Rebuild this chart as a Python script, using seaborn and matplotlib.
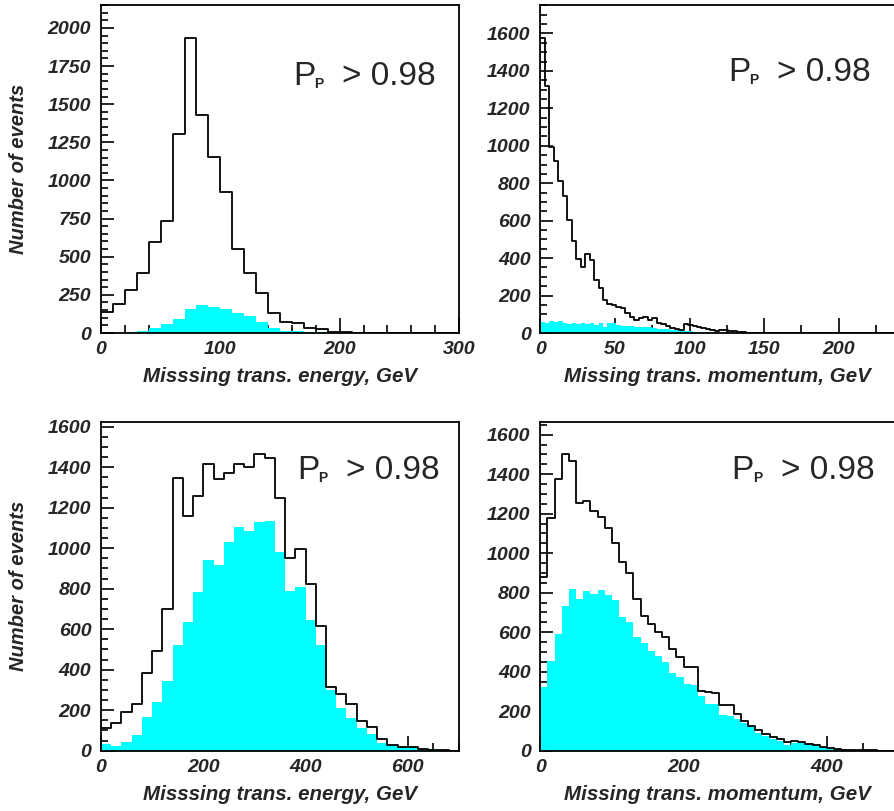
import numpy as np
import pandas as pd
import matplotlib
matplotlib.use("Agg")
import matplotlib.pyplot as plt
from matplotlib.ticker import MultipleLocator
import seaborn as sns

# ---- data: bin contents
# top-left: missing transverse energy, 10 GeV bins
et1_width = 10
et1_all = [139, 192, 285, 395, 596, 731, 1304, 1932, 1428, 1152, 924, 552, 395, 263, 129,
           69, 63, 30, 26, 9, 4, 2, 1, 1, 0, 0, 0, 0, 0, 0]
et1_sel = [0, 1, 4, 15, 30, 59, 92, 157, 184, 172, 157, 132, 111, 71, 35,
           15, 11, 6, 4, 2, 1, 0, 0, 0, 0, 0, 0, 0, 0, 0]

# top-right: missing transverse momentum, 3 GeV bins
pt1_width = 3
pt1_all = [1578, 1320, 995, 920, 810, 733, 601, 493, 395, 354, 420, 390, 283, 238, 176,
           155, 149, 141, 132, 105, 87, 69, 78, 87, 69, 78, 55, 48, 37, 25,
           21, 16, 48, 43, 38, 34, 25, 21, 16, 12, 14, 15, 12, 12, 4,
           3, 2, 1, 2, 1, 0, 2, 1, 0, 1, 2, 1, 0, 1, 1,
           0, 1, 2, 1, 0, 0, 1, 2, 1, 0, 0, 1, 1, 0, 0, 1, 0, 0, 0, 0]
pt1_sel = [60, 52, 64, 57, 64, 52, 48, 55, 50, 52, 48, 55, 45, 55, 30,
           52, 55, 41, 38, 37, 36, 34, 34, 30, 30, 26, 24, 21, 20, 16,
           16, 14, 11, 9, 6, 5, 4, 3, 2, 1, 1, 0, 0, 0, 0,
           0, 0, 0, 0, 0, 0, 0, 0, 0, 0, 0, 0, 0, 0, 0,
           0, 0, 0, 0, 0, 0, 0, 0, 0, 0, 0, 0, 0, 0, 0, 0, 0, 0, 0, 0]

# bottom-left: missing transverse energy, 20 GeV bins
et2_width = 20
et2_all = [114, 135, 189, 232, 384, 494, 698, 1347, 1157, 1259, 1414, 1340, 1373, 1414, 1401,
           1463, 1447, 1246, 953, 998, 825, 616, 314, 280, 232, 148, 115, 59, 26, 20,
           16, 7, 3, 3, 0]
et2_sel = [31, 25, 44, 76, 165, 239, 344, 522, 635, 784, 942, 917, 1032, 1106, 1083,
           1131, 1136, 981, 788, 808, 645, 522, 298, 211, 160, 110, 81, 36, 26, 20,
           16, 10, 7, 5, 0]

# bottom-right: missing transverse momentum, 10 GeV bins
pt2_width = 10
pt2_all = [881, 1177, 1376, 1500, 1467, 1252, 1266, 1214, 1185, 1129, 1053, 954, 898, 766, 682,
           640, 603, 577, 513, 473, 425, 425, 304, 297, 290, 233, 230, 184, 152, 125,
           105, 84, 71, 57, 44, 51, 44, 34, 27, 20, 13, 8, 6, 4, 3, 2, 2, 1, 1, 0]
pt2_sel = [321, 454, 591, 733, 819, 768, 808, 793, 814, 788, 763, 675, 653, 574, 543,
           506, 479, 449, 395, 371, 338, 331, 278, 236, 236, 182, 176, 162, 138, 118,
           88, 74, 57, 47, 30, 37, 44, 34, 24, 17, 10, 7, 5, 4, 3, 2, 2, 1, 1, 0]

xlabel_et = "Misssing trans. energy, GeV"
xlabel_pt = "Missing trans. momentum, GeV"
ylabel = "Number of events"
cut_text = "> 0.98"

sns.set_style("ticks")
plt.rcParams['font.family'] = ['Liberation Sans', 'DejaVu Sans']
plt.rcParams['font.weight'] = 'bold'
plt.rcParams['font.style'] = 'italic'
plt.rcParams['axes.labelweight'] = 'bold'

W, H = 894, 811
fig = plt.figure(figsize=(W / 100, H / 100), dpi=100)


def px_axes(left, top, right, bottom):
    return fig.add_axes([left / W, 1 - bottom / H, (right - left) / W, (bottom - top) / H])


panels = [
    # counts, selected, width, box(px), xlim, ylim, xmajor, xminor, ymajor, label, ylab, cut pos
    (et1_all, et1_sel, et1_width, (101, 5, 459, 333), 300, 2150, 100, 20, 250, xlabel_et, True, (0.536, 0.757)),
    (pt1_all, pt1_sel, pt1_width, (540.3, 5, 894, 333), 237, 1752, 50, 25, 200, xlabel_pt, False, (0.531, 0.767)),
    (et2_all, et2_sel, et2_width, (101, 422, 459, 750.7), 700, 1623, 200, 50, 200, xlabel_et, True, (0.547, 0.827)),
    (pt2_all, pt2_sel, pt2_width, (540.3, 422, 894, 750.7), 493.5, 1664, 200, 50, 200, xlabel_pt, False, (0.541, 0.827)),
]

for counts, sel, width, box, xmax, ymax, xmaj, xmin_, ymaj, xlab, has_ylab, cutpos in panels:
    ax = px_axes(*box)
    edges = [i * width for i in range(len(counts) + 1)]
    df = pd.DataFrame({"x": [e + width / 2 for e in edges[:-1]], "all": counts, "sel": sel})

    sns.histplot(data=df, x="x", weights="sel", bins=edges, element="step", fill=True,
                 color="#00ffff", alpha=1, linewidth=0, ax=ax)
    sns.histplot(data=df, x="x", weights="all", bins=edges, element="step", fill=False,
                 color="black", linewidth=1.3, ax=ax)

    ax.set_xlim(0, xmax)
    ax.set_ylim(0, ymax)
    ax.xaxis.set_major_locator(MultipleLocator(xmaj))
    ax.xaxis.set_minor_locator(MultipleLocator(xmin_))
    ax.yaxis.set_major_locator(MultipleLocator(ymaj))
    ax.yaxis.set_minor_locator(MultipleLocator(50))
    ax.tick_params(which="both", direction="in", top=False, right=False, width=1.2, color="black")
    ax.tick_params(axis="x", which="major", length=11, labelsize=14, pad=6)
    ax.tick_params(axis="x", which="minor", length=6)
    ax.tick_params(axis="y", which="major", length=9, labelsize=14, pad=7)
    ax.tick_params(axis="y", which="minor", length=5)
    for lab in ax.get_xticklabels() + ax.get_yticklabels():
        lab.set_fontweight("bold")
        lab.set_fontstyle("italic")
    for s in ax.spines.values():
        s.set_linewidth(1.3)
        s.set_color("black")
    if box[2] >= W:
        ax.spines["right"].set_visible(False)

    ax.set_xlabel(xlab, fontsize=14.8, fontweight="bold", fontstyle="italic")
    ax.xaxis.set_label_coords(0.5, -0.105)
    if has_ylab:
        ax.set_ylabel(ylabel, fontsize=14.5, fontweight="bold", fontstyle="italic")
        ax.yaxis.set_label_coords(-0.205, 0.5)
    else:
        ax.set_ylabel("")

    # P_P > 0.98 annotation
    ax.annotate("P", xy=cutpos, xycoords="axes fraction", ha="left", va="baseline",
                fontsize=24, fontweight="normal", fontstyle="normal")
    ax.annotate("P", xy=cutpos, xycoords="axes fraction", xytext=(21, -3),
                textcoords="offset pixels", ha="left", va="baseline",
                fontsize=10, fontweight="bold", fontstyle="normal")
    ax.annotate(cut_text, xy=cutpos, xycoords="axes fraction", xytext=(49, 0),
                textcoords="offset pixels", ha="left", va="baseline",
                fontsize=24, fontweight="normal", fontstyle="normal")

fig.savefig("out.png", dpi=100, facecolor="white")
